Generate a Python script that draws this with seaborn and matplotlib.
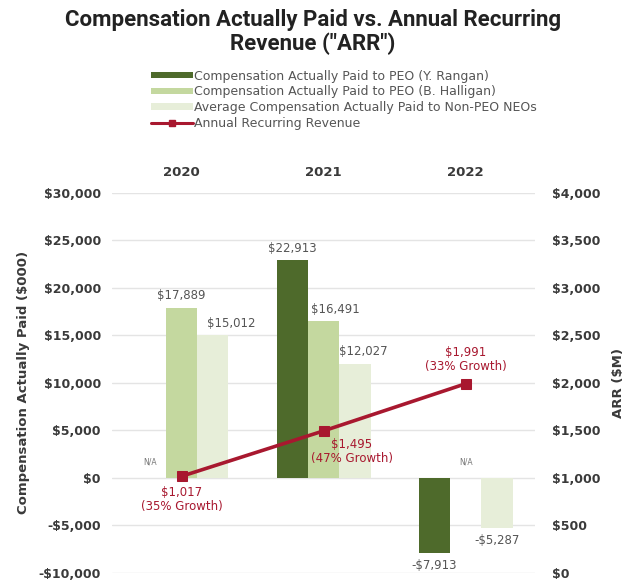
import matplotlib
matplotlib.use("Agg")
import matplotlib.pyplot as plt
from matplotlib.patches import Patch
from matplotlib.lines import Line2D
import seaborn as sns
import pandas as pd
import numpy as np

years = ["2020", "2021", "2022"]
series_names = [
    "Compensation Actually Paid to PEO (Y. Rangan)",
    "Compensation Actually Paid to PEO (B. Halligan)",
    "Average Compensation Actually Paid to Non-PEO NEOs",
]
rangan = [None, 22913, -7913]
halligan = [17889, 16491, None]
non_peo = [15012, 12027, -5287]
arr = [1017, 1495, 1991]
arr_growth = ["35%", "47%", "33%"]
arr_name = "Annual Recurring Revenue"

bar_colors = ["#4e6a2b", "#c4d89f", "#e7eed9"]
red = "#a8182f"
grey_text = "#555555"
axis_text = "#3a3a3a"

sns.set_theme(style="white")
plt.rcParams["font.family"] = ["DejaVu Sans"]

rows = []
for name, vals in zip(series_names, [rangan, halligan, non_peo]):
    for y, v in zip(years, vals):
        if v is not None:
            rows.append({"year": y, "series": name, "value": v})
df = pd.DataFrame(rows)

fig = plt.figure(figsize=(6.26, 5.81), dpi=100)
ax = fig.add_axes([0.179, 0.014, 0.676, 0.654])

sns.barplot(data=df, x="year", y="value", hue="series", order=years,
            hue_order=series_names, palette=bar_colors, width=0.66,
            ax=ax, legend=False, saturation=1, errorbar=None, linewidth=0)

ax.set_ylim(-10000, 30000)
ax.set_xlim(-0.49, 2.49)
ax.set_yticks(np.arange(-10000, 30001, 5000))
ax.set_yticklabels([("-$" if v < 0 else "$") + f"{abs(v):,}" for v in range(-10000, 30001, 5000)],
                   fontsize=9, fontweight="bold", color=axis_text)
ax.grid(axis="y", color="#e4e4e4", linewidth=1)
ax.set_axisbelow(True)
for s in ax.spines.values():
    s.set_visible(False)
ax.xaxis.tick_top()
ax.tick_params(axis="x", length=0, pad=10, labelsize=9.5, labelcolor=axis_text)
for t in ax.get_xticklabels():
    t.set_fontweight("bold")
ax.tick_params(axis="y", length=0, pad=8)
ax.set_xlabel("")
ax.set_ylabel("Compensation Actually Paid ($000)", fontsize=9.5, fontweight="bold",
              color=axis_text, labelpad=6)

# value labels on bars; a few are nudged right to clear the neighbouring bar
label_nudge = {(0, 2): 0.13, (1, 1): 0.08, (1, 2): 0.06}
group_w = 0.66
bw = group_w / 3
for yi in range(len(years)):
    for si, vals in enumerate([rangan, halligan, non_peo]):
        v = vals[yi]
        xc = yi - group_w / 2 + bw * (si + 0.5)
        if v is None:
            ax.text(xc, 1200, "N/A", ha="center", va="bottom", fontsize=5.5, color="#777777")
            continue
        xc += label_nudge.get((yi, si), 0)
        txt = ("-$" if v < 0 else "$") + f"{abs(v):,.0f}"
        if v >= 0:
            ax.text(xc, v + 600, txt, ha="center", va="bottom", fontsize=8.5, color=grey_text)
        else:
            ax.text(xc, v - 600, txt, ha="center", va="top", fontsize=8.5, color=grey_text)

# ARR line on the secondary axis
ax2 = ax.twinx()
arr_df = pd.DataFrame({"x": [0, 1, 2], "arr": arr})
sns.lineplot(data=arr_df, x="x", y="arr", ax=ax2, color=red, linewidth=2.6,
             marker="s", markersize=7, markeredgecolor=red)
ax2.set_ylim(0, 4000)
ax2.set_yticks(np.arange(0, 4001, 500))
ax2.set_yticklabels([f"${v:,}" for v in range(0, 4001, 500)], fontsize=9,
                    fontweight="bold", color=axis_text)
ax2.tick_params(axis="y", length=0, pad=12)
ax2.set_ylabel("ARR ($M)", fontsize=9.5, fontweight="bold", color=axis_text, labelpad=8)
ax2.set_xlabel("")
for s in ax2.spines.values():
    s.set_visible(False)
ax2.grid(False)

offsets = [(0, -100, "top"), (0.2, -80, "top"), (0, 110, "bottom")]
for i, (v, g) in enumerate(zip(arr, arr_growth)):
    dx, dy, va = offsets[i]
    ax2.text(i + dx, v + dy, f"${v:,}\n({g} Growth)", ha="center", va=va, fontsize=8.5,
             color=red, linespacing=1.1)

# title and legend
fig.text(0.5, 0.985, 'Compensation Actually Paid vs. Annual Recurring\nRevenue ("ARR")',
         ha="center", va="top", fontsize=16, fontweight="bold", color="#222222",
         linespacing=1.1, family=["Roboto", "DejaVu Sans"])
handles = [Patch(facecolor=c, edgecolor="none") for c in bar_colors]
handles.append(Line2D([0], [0], color=red, linewidth=2.2, marker="s", markersize=5))
leg = fig.legend(handles, series_names + [arr_name], loc="upper left",
                 bbox_to_anchor=(0.232, 0.891), frameon=False, fontsize=9,
                 handlelength=3.3, handleheight=0.45, handletextpad=0.1,
                 labelspacing=0.22, borderpad=0)
for t in leg.get_texts():
    t.set_color(grey_text)

fig.savefig("out.png", dpi=100)
